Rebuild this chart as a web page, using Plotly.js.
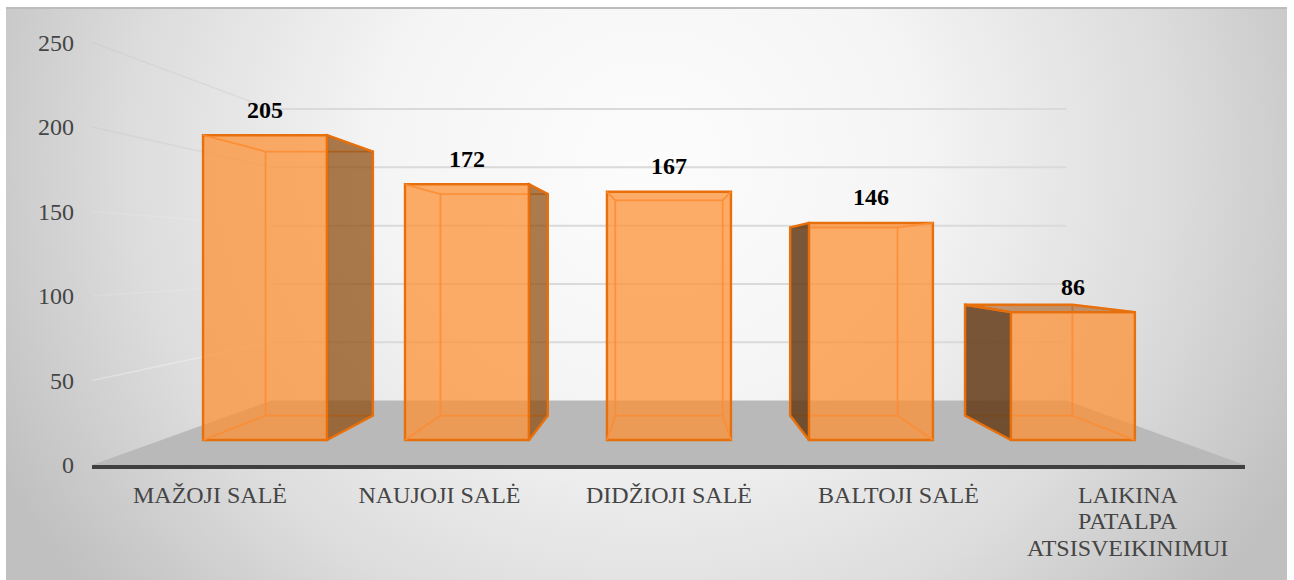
<!DOCTYPE html>
<html>
<head>
<meta charset="utf-8">
<script src="https://cdn.plot.ly/plotly-3.0.1.min.js"></script>
<style>
html,body{margin:0;padding:0;width:1294px;height:580px;overflow:hidden;background:#fff;}
#panel{position:absolute;left:6px;top:7px;width:1281px;height:573px;box-sizing:border-box;border-top:2px solid #bcbcbc;
background:radial-gradient(ellipse 730px 680px at 644px 150px,#fcfcfc 0%,#f5f5f5 36%,#dcdcdc 72%,#c0c0c0 100%);}
#chart{position:absolute;left:0;top:0;width:1294px;height:580px;}
</style>
</head>
<body>
<div id="panel"></div>
<div id="chart"></div>
<script>
// Data
var categories = ['MAŽOJI SALĖ','NAUJOJI SALĖ','DIDŽIOJI SALĖ','BALTOJI SALĖ','LAIKINA'];
var extraLabelLines = ['PATALPA','ATSISVEIKINIMUI'];
var values = [205,172,167,146,86];
var gridValues = [50,100,150,200,250];
var tickValues = [0,50,100,150,200,250];

// Perspective (depth factors toward one vanishing point, in axis units)
var EYE_X = 2, EYE_V = 123;
var S_FRONT = 0.88, S_BACK = 0.762, S_WALL = 0.69;
var HALF = 0.307, X0 = -0.514, X1 = 4.51, VMAX = 257.4;
var EDGE = '#e8700c', INNER = 'rgba(252,140,50,0.85)';
var FONT = 'Liberation Serif, Times New Roman, serif';
var LABEL_COLOR = '#454545';

function px(x,s){return EYE_X + s*(x-EYE_X);}
function py(v,s){return EYE_V + s*(v-EYE_V);}
function poly(pts){return 'M'+pts.map(function(p){return p[0]+','+p[1];}).join('L')+'Z';}
function line(pts,color,width){
  return {type:'scatter',mode:'lines',x:pts.map(function(p){return p[0];}),y:pts.map(function(p){return p[1];}),
    line:{color:color,width:width},hoverinfo:'skip',showlegend:false,cliponaxis:false};
}
function face(pts,fill){
  var closed = pts.concat([pts[0]]);
  var t = line(closed,EDGE,2.4); t.fill='toself'; t.fillcolor=fill; return t;
}

var shapes = [];
// floor
shapes.push({type:'path',layer:'below',xref:'x',yref:'y',
  path:poly([[X0,0],[X1,0],[px(X1,S_WALL),py(0,S_WALL)],[px(X0,S_WALL),py(0,S_WALL)]]),
  fillcolor:'#b9b9b9',line:{width:0}});
// back wall gridlines and left wall lines
gridValues.forEach(function(v){
  shapes.push({type:'line',layer:'below',xref:'x',yref:'y',x0:px(X0,S_WALL),x1:px(X1,S_WALL),y0:py(v,S_WALL),y1:py(v,S_WALL),
    line:{color:'#dadada',width:2}});
  shapes.push({type:'line',layer:'below',xref:'x',yref:'y',x0:X0,x1:px(X0,S_WALL),y0:v,y1:py(v,S_WALL),
    line:{color:v>=200?'rgba(195,195,195,0.32)':(v>=100?'rgba(255,255,255,0.12)':'rgba(255,255,255,0.3)'),width:1.5}});
});

var traces = [];
// front faces: real bars
traces.push({type:'bar',
  x:categories.map(function(c,i){return px(i,S_FRONT);}),
  y:values.map(function(v){return v*S_FRONT;}),
  base:values.map(function(){return py(0,S_FRONT);}),
  width:categories.map(function(){return 2*HALF*S_FRONT;}),
  marker:{color:'rgba(254,146,54,0.75)',line:{color:EDGE,width:2.4}},
  hoverinfo:'skip',showlegend:false});

values.forEach(function(v,i){
  var l=i-HALF, r=i+HALF;
  // inner back box edges
  traces.push(line([[px(l,S_BACK),py(0,S_BACK)],[px(r,S_BACK),py(0,S_BACK)],[px(r,S_BACK),py(v,S_BACK)],[px(l,S_BACK),py(v,S_BACK)],[px(l,S_BACK),py(0,S_BACK)]],INNER,1.8));
  [[l,0],[r,0],[l,v],[r,v]].forEach(function(c){
    traces.push(line([[px(c[0],S_FRONT),py(c[1],S_FRONT)],[px(c[0],S_BACK),py(c[1],S_BACK)]],INNER,1.8));
  });
  // dark side walls
  if(i<2){
    traces.push(face([[px(r,S_FRONT),py(0,S_FRONT)],[px(r,S_BACK),py(0,S_BACK)],[px(r,S_BACK),py(v,S_BACK)],[px(r,S_FRONT),py(v,S_FRONT)]],'rgba(140,72,10,0.72)'));
  } else if(i>2){
    traces.push(face([[px(l,S_FRONT),py(0,S_FRONT)],[px(l,S_BACK),py(0,S_BACK)],[px(l,S_BACK),py(v,S_BACK)],[px(l,S_FRONT),py(v,S_FRONT)]],'rgba(100,60,24,0.86)'));
  }
  // top face visible when below the eye level
  if(v<EYE_V){
    traces.push(face([[px(l,S_FRONT),py(v,S_FRONT)],[px(r,S_FRONT),py(v,S_FRONT)],[px(r,S_BACK),py(v,S_BACK)],[px(l,S_BACK),py(v,S_BACK)]],'rgba(170,92,28,0.62)'));
  }
});

// value labels
traces.push({type:'scatter',mode:'text',
  x:categories.map(function(c,i){return px(i,S_FRONT);}),
  y:values.map(function(v){return py(v,S_FRONT)+14;}),
  text:values.map(String),textposition:'middle center',
  textfont:{family:FONT,size:24,color:'#000',weight:700},
  hoverinfo:'skip',showlegend:false,cliponaxis:false});

var layout = {
  width:1294,height:580,autosize:false,
  margin:{l:92,r:49,t:30,b:115,pad:0},
  paper_bgcolor:'rgba(0,0,0,0)',plot_bgcolor:'rgba(0,0,0,0)',
  showlegend:false,barmode:'overlay',shapes:shapes,
  annotations:extraLabelLines.map(function(t,k){
    return {text:t,xref:'x',x:categories.length-1,yref:'paper',y:0,yanchor:'middle',xanchor:'center',
      yshift:-(56+27*k),showarrow:false,font:{family:FONT,size:24,color:LABEL_COLOR}};
  }),
  xaxis:{type:'linear',range:[X0,X1],tickmode:'array',tickvals:categories.map(function(c,i){return i;}),ticktext:categories,
    showgrid:false,zeroline:false,showline:true,linecolor:'#404040',linewidth:4,ticks:'',ticklabelstandoff:5,tickangle:0,
    tickfont:{family:FONT,size:24,color:LABEL_COLOR}},
  yaxis:{range:[0,VMAX],tickmode:'array',tickvals:tickValues,ticktext:tickValues.map(String),
    showgrid:false,zeroline:false,showline:false,ticks:'',ticklabelstandoff:17,
    tickfont:{family:FONT,size:24,color:LABEL_COLOR}}
};
Plotly.newPlot('chart',traces,layout,{displayModeBar:false,staticPlot:true});
</script>
</body>
</html>
